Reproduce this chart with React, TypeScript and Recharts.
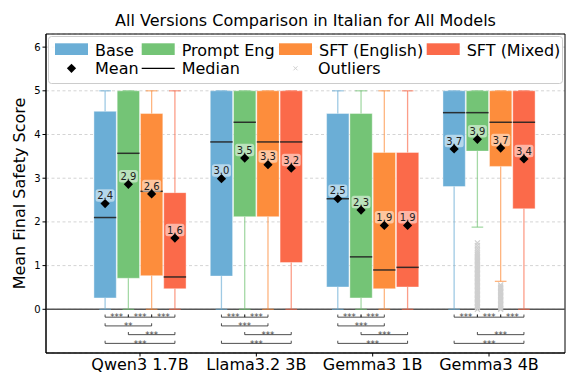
import { ComposedChart, XAxis, YAxis, CartesianGrid, ReferenceArea, ReferenceLine, Scatter } from "recharts";

document.body.style.margin = "0";

const FONT = "DejaVu Sans, sans-serif";

const categories = ["Qwen3 1.7B", "Llama3.2 3B", "Gemma3 1B", "Gemma3 4B"];
const versions = ["Base", "Prompt Eng", "SFT (English)", "SFT (Mixed)"];
const versionColors = ["#6baed6", "#74c476", "#fd8d3c", "#fb6a4a"];
const versionOffsets = [-0.3, -0.1, 0.1, 0.3];
const yTicks = [0, 1, 2, 3, 4, 5, 6];

// [lower whisker, q1, median, q3, upper whisker] for each model
const baseBoxes = [
  [0, 0.26, 2.1, 4.53, 5],
  [0, 0.76, 3.83, 5, 5],
  [0, 0.51, 2.53, 4.48, 5],
  [0, 2.81, 4.5, 5, 5],
];
const promptBoxes = [
  [0, 0.71, 3.57, 5, 5],
  [0, 2.12, 4.28, 5, 5],
  [0, 0.26, 1.2, 4.48, 5],
  [1.88, 3.62, 4.5, 5, 5],
];
const sftEnBoxes = [
  [0, 0.77, 2.7, 4.48, 5],
  [0, 2.12, 3.83, 5, 5],
  [0, 0.47, 0.9, 3.59, 5],
  [0.64, 3.27, 4.28, 5, 5],
];
const sftMixBoxes = [
  [0, 0.47, 0.74, 2.67, 5],
  [0, 1.07, 3.83, 5, 5],
  [0, 0.51, 0.96, 3.59, 5],
  [0, 2.3, 4.28, 5, 5],
];
const allBoxes = [baseBoxes, promptBoxes, sftEnBoxes, sftMixBoxes];

const baseMeans = [2.42, 2.99, 2.53, 3.67];
const promptMeans = [2.86, 3.46, 2.27, 3.89];
const sftEnMeans = [2.64, 3.31, 1.92, 3.69];
const sftMixMeans = [1.63, 3.23, 1.92, 3.44];
const allMeans = [baseMeans, promptMeans, sftEnMeans, sftMixMeans];

// outliers only show up for Gemma3 4B
const promptOutliers4B = [1.52, 1.46, 1.4, 1.35, 1.31, 1.27, 1.24, 1.21, 1.18, 1.15, 1.12, 1.09, 1.06, 1.03, 1.0, 0.97, 0.94, 0.91, 0.88, 0.85, 0.82, 0.79, 0.76, 0.73, 0.7, 0.67, 0.64, 0.61, 0.58, 0.55, 0.52, 0.49, 0.46, 0.43, 0.4, 0.37, 0.34, 0.31, 0.28, 0.25, 0.22, 0.19, 0.16, 0.13, 0.1, 0.07, 0.04, 0];
const sftEnOutliers4B = [0.56, 0.53, 0.5, 0.47, 0.44, 0.41, 0.38, 0.35, 0.32, 0.29, 0.26, 0.23, 0.2, 0.17, 0.14, 0.11, 0.08, 0.05, 0.02, 0];

type Bracket = { model: number; from: number; to: number; row: number; stars: string };
const brackets: Bracket[] = [
  { model: 0, from: 0, to: 1, row: 0, stars: "***" },
  { model: 0, from: 1, to: 2, row: 0, stars: "***" },
  { model: 0, from: 2, to: 3, row: 0, stars: "***" },
  { model: 0, from: 0, to: 2, row: 1, stars: "**" },
  { model: 0, from: 1, to: 3, row: 2, stars: "***" },
  { model: 0, from: 0, to: 3, row: 3, stars: "***" },
  { model: 1, from: 0, to: 1, row: 0, stars: "***" },
  { model: 1, from: 1, to: 2, row: 0, stars: "***" },
  { model: 1, from: 0, to: 2, row: 1, stars: "***" },
  { model: 1, from: 1, to: 3, row: 2, stars: "***" },
  { model: 1, from: 0, to: 3, row: 3, stars: "***" },
  { model: 2, from: 0, to: 1, row: 0, stars: "***" },
  { model: 2, from: 1, to: 2, row: 0, stars: "***" },
  { model: 2, from: 0, to: 2, row: 1, stars: "***" },
  { model: 2, from: 1, to: 3, row: 2, stars: "***" },
  { model: 2, from: 0, to: 3, row: 3, stars: "***" },
  { model: 3, from: 0, to: 1, row: 0, stars: "***" },
  { model: 3, from: 1, to: 2, row: 0, stars: "***" },
  { model: 3, from: 2, to: 3, row: 0, stars: "***" },
  { model: 3, from: 1, to: 3, row: 2, stars: "***" },
  { model: 3, from: 0, to: 3, row: 3, stars: "***" },
];
const bracketRows = [-0.18, -0.38, -0.58, -0.78];

const BOX_HALF = 0.096;
const CAP_HALF = 0.05;
const TIP = 0.06;

function MeanMarker(props: any) {
  const { cx, cy, payload } = props;
  const r = 4.6;
  return (
    <g>
      <rect x={cx - 9.5} y={cy - 14.3} width={19} height={12.5} rx={2.5} fill="#fff" fillOpacity={0.5} />
      <text x={cx} y={cy - 4.4} textAnchor="middle" fontSize={10} fill="#222" fontFamily={FONT}>
        {payload.y.toFixed(1)}
      </text>
      <path d={`M${cx},${cy - r}L${cx + r},${cy}L${cx},${cy + r}L${cx - r},${cy}Z`} fill="#000" />
    </g>
  );
}

function OutlierMark(props: any) {
  const { cx, cy } = props;
  const s = 2.5;
  return (
    <path
      d={`M${cx - s},${cy - s}L${cx + s},${cy + s}M${cx - s},${cy + s}L${cx + s},${cy - s}`}
      stroke="#cfcfcf"
      strokeWidth={1.2}
    />
  );
}

function StarsText(props: any) {
  const { cx, cy, payload } = props;
  return (
    <text x={cx} y={cy + 3.2} textAnchor="middle" fontSize={8.5} fill="#444" fontFamily={FONT}>
      {payload.stars}
    </text>
  );
}

function Overlay() {
  const patchX = [55, 141.7, 279, 426.7];
  return (
    <svg width={572} height={376} style={{ position: "absolute", left: 0, top: 0, pointerEvents: "none" }} fontFamily={FONT}>
      <text x={305.5} y={26} textAnchor="middle" fontSize={16} fill="#000">
        All Versions Comparison in Italian for All Models
      </text>
      <text x={25} y={193.5} textAnchor="middle" fontSize={16} fill="#000" transform="rotate(-90, 25, 193.5)">
        Mean Final Safety Score
      </text>
      <rect x={48.5} y={36.5} width={514} height={47} rx={3} fill="#fff" fillOpacity={0.8} stroke="#cccccc" />
      {versions.map((v, i) => (
        <g key={v}>
          <rect x={patchX[i]} y={43.3} width={33} height={11.7} fill={versionColors[i]} />
          <text x={patchX[i] + 40} y={55.5} fontSize={16} fill="#000">{v}</text>
        </g>
      ))}
      <path d="M71.5,63.7L76.1,68.3L71.5,72.9L66.9,68.3Z" fill="#000" />
      <text x={95} y={74} fontSize={16} fill="#000">Mean</text>
      <line x1={141.7} x2={174.7} y1={68.3} y2={68.3} stroke="#000" strokeWidth={1.3} />
      <text x={181.7} y={74} fontSize={16} fill="#000">Median</text>
      <path d="M293.5,66.3L297.5,70.3M293.5,70.3L297.5,66.3" stroke="#cfcfcf" strokeWidth={1} />
      <text x={318} y={74} fontSize={16} fill="#000">Outliers</text>
    </svg>
  );
}

export default function App() {
  const starsData = brackets.map((b) => ({
    x: b.model + (versionOffsets[b.from] + versionOffsets[b.to]) / 2,
    y: bracketRows[b.row],
    stars: b.stars,
  }));

  return (
    <div style={{ position: "relative", width: 572, height: 376, fontFamily: FONT }}>
      <ComposedChart width={572} height={376} margin={{ top: 34, right: 7, bottom: 0, left: 0 }}>
        <CartesianGrid vertical={false} stroke="#d4d4d4" strokeDasharray="3 2.5" />
        <XAxis
          type="number"
          dataKey="x"
          domain={[-0.808, 3.653]}
          ticks={[0, 1, 2, 3]}
          interval={0}
          allowDataOverflow
          tickFormatter={(v: number) => categories[v]}
          height={23}
          tickSize={3.5}
          tickMargin={2}
          stroke="#000"
          tick={{ fontSize: 16, fill: "#000", fontFamily: FONT }}
        />
        <YAxis
          type="number"
          dataKey="y"
          domain={[-1, 6.3]}
          ticks={yTicks}
          interval={0}
          allowDataOverflow
          width={46}
          tickSize={3.5}
          tickMargin={2}
          stroke="#000"
          tick={{ fontSize: 10, fill: "#000", fontFamily: FONT }}
        />

        {allBoxes.map((boxes, s) =>
          boxes.map((b, m) => {
            const c = m + versionOffsets[s];
            return (
              <ReferenceArea
                key={`box-${s}-${m}`}
                x1={c - BOX_HALF}
                x2={c + BOX_HALF}
                y1={b[1]}
                y2={b[3]}
                fill={versionColors[s]}
                fillOpacity={1}
                stroke="#ffffff"
                strokeOpacity={0.5}
                strokeWidth={0.8}
              />
            );
          })
        )}

        <ReferenceLine y={0} stroke="#555" strokeWidth={1.5} />

        {allBoxes.map((boxes, s) =>
          boxes.map((b, m) => {
            const c = m + versionOffsets[s];
            const col = versionColors[s];
            return [
              <ReferenceLine key={`wl-${s}-${m}`} segment={[{ x: c, y: b[0] }, { x: c, y: b[1] }]} stroke={col} strokeOpacity={0.65} strokeWidth={1.3} />,
              <ReferenceLine key={`wh-${s}-${m}`} segment={[{ x: c, y: b[3] }, { x: c, y: b[4] }]} stroke={col} strokeOpacity={0.65} strokeWidth={1.3} />,
              <ReferenceLine key={`cl-${s}-${m}`} segment={[{ x: c - CAP_HALF, y: b[0] }, { x: c + CAP_HALF, y: b[0] }]} stroke={col} strokeOpacity={0.65} strokeWidth={1.3} />,
              <ReferenceLine key={`ch-${s}-${m}`} segment={[{ x: c - CAP_HALF, y: b[4] }, { x: c + CAP_HALF, y: b[4] }]} stroke={col} strokeOpacity={0.65} strokeWidth={1.3} />,
              <ReferenceLine key={`md-${s}-${m}`} segment={[{ x: c - BOX_HALF, y: b[2] }, { x: c + BOX_HALF, y: b[2] }]} stroke="#222" strokeOpacity={0.9} strokeWidth={1.5} />,
            ];
          })
        )}

        {brackets.map((b, i) => {
          const x1 = b.model + versionOffsets[b.from];
          const x2 = b.model + versionOffsets[b.to];
          const y = bracketRows[b.row];
          return [
            <ReferenceLine key={`bh-${i}`} segment={[{ x: x1, y }, { x: x2, y }]} stroke="#222" strokeWidth={0.8} />,
            <ReferenceLine key={`bl-${i}`} segment={[{ x: x1, y }, { x: x1, y: y + TIP }]} stroke="#222" strokeWidth={0.8} />,
            <ReferenceLine key={`br-${i}`} segment={[{ x: x2, y }, { x: x2, y: y + TIP }]} stroke="#222" strokeWidth={0.8} />,
          ];
        })}

        <ReferenceArea x1={-0.808} x2={3.653} y1={-1} y2={6.3} fill="none" fillOpacity={0} stroke="#000" strokeWidth={1} ifOverflow="visible" />

        <Scatter
          data={promptOutliers4B.map((y) => ({ x: 3 + versionOffsets[1], y }))}
          shape={(p: any) => <OutlierMark {...p} />}
          isAnimationActive={false}
        />
        <Scatter
          data={sftEnOutliers4B.map((y) => ({ x: 3 + versionOffsets[2], y }))}
          shape={(p: any) => <OutlierMark {...p} />}
          isAnimationActive={false}
        />
        <Scatter data={starsData} shape={(p: any) => <StarsText {...p} />} isAnimationActive={false} />
        {allMeans.map((means, s) => (
          <Scatter
            key={versions[s]}
            name={versions[s]}
            data={means.map((y, m) => ({ x: m + versionOffsets[s], y }))}
            shape={(p: any) => <MeanMarker {...p} />}
            isAnimationActive={false}
          />
        ))}
      </ComposedChart>
      <Overlay />
    </div>
  );
}
